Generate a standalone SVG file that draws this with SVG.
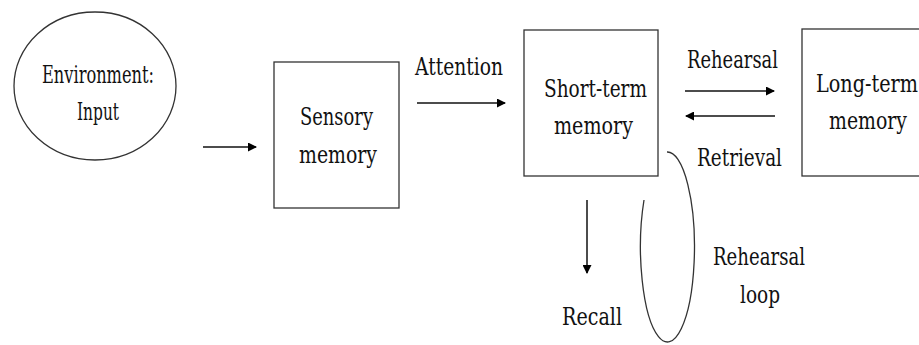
<svg xmlns="http://www.w3.org/2000/svg" width="919" height="345" viewBox="0 0 919 345">
<defs>
<marker id="ah" markerWidth="9" markerHeight="9" refX="8" refY="4.5" orient="auto" markerUnits="userSpaceOnUse">
<path d="M0,0 L9,4.5 L0,9 Z" fill="#000"/>
</marker>
<style>
text{font-family:'DejaVu Serif',serif;font-size:25px;fill:#111;}
.box{fill:#fff;stroke:#333;stroke-width:1.3;}
.c{stroke:#111;stroke-width:1.5;fill:none;}
</style>
</defs>
<rect width="919" height="345" fill="#fff"/>
<g id="environment">
<ellipse cx="95" cy="86" rx="81" ry="74" class="box"/>
<text x="42" y="83" textLength="112" lengthAdjust="spacingAndGlyphs">Environment:</text>
<text x="77" y="120" textLength="42" lengthAdjust="spacingAndGlyphs">Input</text>
</g>
<g id="sensory">
<rect x="274" y="62" width="125" height="146" class="box"/>
<text x="300" y="125" textLength="73" lengthAdjust="spacingAndGlyphs">Sensory</text>
<text x="299" y="163" textLength="78" lengthAdjust="spacingAndGlyphs">memory</text>
</g>
<g id="shortterm">
<rect x="524" y="30" width="134" height="146" class="box"/>
<text x="544" y="97" textLength="103" lengthAdjust="spacingAndGlyphs">Short-term</text>
<text x="554" y="134" textLength="79" lengthAdjust="spacingAndGlyphs">memory</text>
</g>
<g id="longterm">
<rect x="802" y="29" width="140" height="147" class="box"/>
<text x="816" y="92" textLength="102" lengthAdjust="spacingAndGlyphs">Long-term</text>
<text x="829" y="129" textLength="78" lengthAdjust="spacingAndGlyphs">memory</text>
</g>
<g id="connectors">
<line x1="203" y1="147" x2="256" y2="147" class="c" marker-end="url(#ah)"/>
<line x1="417" y1="103" x2="505" y2="103" class="c" marker-end="url(#ah)"/>
<line x1="685" y1="91" x2="774" y2="91" class="c" marker-end="url(#ah)"/>
<line x1="775" y1="116" x2="686" y2="116" class="c" marker-end="url(#ah)"/>
<line x1="587" y1="200" x2="587" y2="273" class="c" marker-end="url(#ah)"/>
<path d="M667 152 A27 95 0 1 1 644 200" fill="none" stroke="#333" stroke-width="1.3"/>
</g>
<g id="labels">
<text x="415" y="75" textLength="88" lengthAdjust="spacingAndGlyphs">Attention</text>
<text x="687" y="68" textLength="91" lengthAdjust="spacingAndGlyphs">Rehearsal</text>
<text x="697" y="166" textLength="85" lengthAdjust="spacingAndGlyphs">Retrieval</text>
<text x="562" y="325" textLength="60" lengthAdjust="spacingAndGlyphs">Recall</text>
<text x="713" y="265" textLength="92" lengthAdjust="spacingAndGlyphs">Rehearsal</text>
<text x="740" y="303" textLength="40" lengthAdjust="spacingAndGlyphs">loop</text>
</g>
</svg>
